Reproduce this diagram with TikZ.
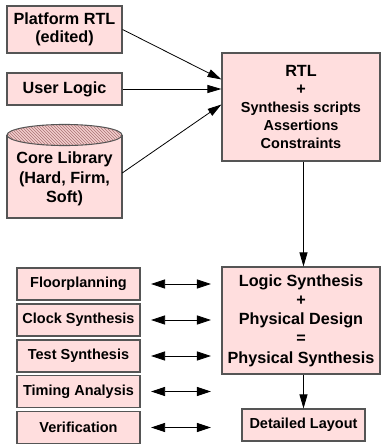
\documentclass[tikz,border=0pt]{standalone}
\usepackage{fontspec}
\setmainfont{Liberation Sans}
\usetikzlibrary{arrows.meta,patterns,calc}
\definecolor{boxfill}{RGB}{255,222,222}
\definecolor{boxline}{RGB}{85,85,85}
\definecolor{hatchfill}{RGB}{242,205,205}
\definecolor{hatchline}{RGB}{170,115,115}
\newcommand\smallsz{\fontsize{14.5}{18.2}\selectfont}
\begin{document}
\begin{tikzpicture}[x=1pt,y=-1pt,
  box/.style={draw=boxline, fill=boxfill, line width=1.1pt, inner sep=0pt, align=center,
    font=\bfseries\fontsize{16.2}{18.5}\selectfont},
  sbox/.style={box, font=\bfseries\fontsize{14.5}{18}\selectfont},
  arr/.style={-{Triangle[length=14pt,width=8pt]}, line width=0.8pt},
  dbl/.style={{Triangle[length=14pt,width=9pt]}-{Triangle[length=14pt,width=9pt]}, line width=0.8pt,
    shorten <=10.5pt, shorten >=10.5pt}]
\useasboundingbox (0,0) rectangle (381,444);

% inputs
\node[box, minimum width=115pt, minimum height=47pt] (plat) at (64.5,29.5) {Platform RTL\\(edited)};
\node[box, minimum width=115pt, minimum height=32pt] (user) at (64.5,89) {User Logic};

% core library cylinder
\fill[boxfill] (7,135) rectangle (122,218);
\draw[boxline, line width=1.1pt] (7,135) -- (7,218) -- (122,218) -- (122,135);
\draw[boxline, line width=1.1pt, fill=hatchfill] (64.5,135) ellipse (57.5 and 10.5);
\fill[pattern=north west lines, pattern color=hatchline] (64.5,135) ellipse (57 and 10);
\node[inner sep=0pt, minimum width=115pt, align=center,
  font=\bfseries\fontsize{16.2}{19.5}\selectfont] (core) at (64.5,179) {Core Library\\(Hard, Firm,\\Soft)};

% RTL box
\node[box, minimum width=158pt, minimum height=108pt, font=\bfseries\fontsize{16.2}{18.2}\selectfont] (rtl) at (301,107)
  {RTL\\+\\\smallsz Synthesis scripts\\\smallsz Assertions\\\smallsz Constraints};

% synthesis box
\node[box, minimum width=158pt, minimum height=107pt, font=\bfseries\fontsize{16.2}{19.3}\selectfont] (lsyn) at (301,320.5)
  {Logic Synthesis\\+\\Physical Design\\=\\Physical Synthesis};

\node[sbox, minimum width=123pt, minimum height=32pt] (layout) at (303.5,425) {Detailed Layout};

% left tool boxes
\foreach \n/\y/\t in {floor/284/Floorplanning, clock/320/Clock Synthesis, test/356/Test Synthesis,
  timing/391.5/Timing Analysis, verif/427.5/Verification}{
  \node[sbox, minimum width=123pt, minimum height=32pt] (\n) at (78.5,\y) {\t};
  \draw[dbl] (\n.east) -- (\n.east -| lsyn.west);
}

% connectors
\draw[arr] (plat.east) -- ($(rtl.north west)+(0,27)$);
\draw[arr] (user.east) -- (user.east -| rtl.west);
\draw[arr] ([yshift=6pt]core.east) -- ($(rtl.north west)+(0,52)$);
\draw[arr] (rtl.south -| layout.north) -- (lsyn.north -| layout.north);
\draw[arr] (lsyn.south -| layout.north) -- (layout.north);
\end{tikzpicture}
\end{document}
